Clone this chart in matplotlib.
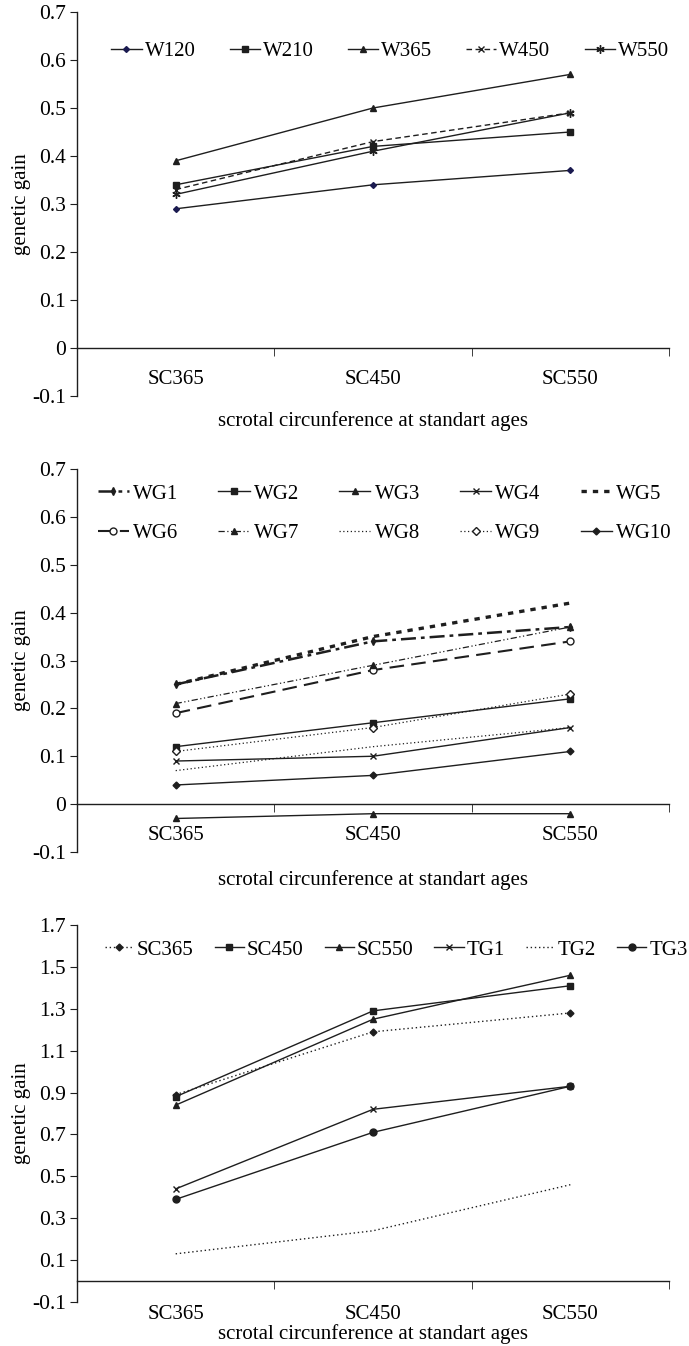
import matplotlib.pyplot as plt
import numpy as np

plt.rcParams['font.family'] = ['Liberation Serif', 'DejaVu Serif']

categories = ['SC365', 'SC450', 'SC550']

# panel 1 : selection on weights
w_names = ['W120', 'W210', 'W365', 'W450', 'W550']
w120 = [0.29, 0.34, 0.37]
w210 = [0.34, 0.42, 0.45]
w365 = [0.39, 0.50, 0.57]
w450 = [0.33, 0.43, 0.49]
w550 = [0.32, 0.41, 0.49]
p1_yticks = [-0.1, 0, 0.1, 0.2, 0.3, 0.4, 0.5, 0.6, 0.7]

# panel 2 : weight gains
wg_names = ['WG1', 'WG2', 'WG3', 'WG4', 'WG5', 'WG6', 'WG7', 'WG8', 'WG9', 'WG10']
wg1 = [0.25, 0.34, 0.37]
wg2 = [0.12, 0.17, 0.22]
wg3 = [-0.03, -0.02, -0.02]
wg4 = [0.09, 0.10, 0.16]
wg5 = [0.25, 0.35, 0.42]
wg6 = [0.19, 0.28, 0.34]
wg7 = [0.21, 0.29, 0.37]
wg8 = [0.07, 0.12, 0.16]
wg9 = [0.11, 0.16, 0.23]
wg10 = [0.04, 0.06, 0.11]
p2_yticks = [-0.1, 0, 0.1, 0.2, 0.3, 0.4, 0.5, 0.6, 0.7]

# panel 3 : scrotal circumference and testis traits
t_names = ['SC365', 'SC450', 'SC550', 'TG1', 'TG2', 'TG3']
sc365 = [0.89, 1.19, 1.28]
sc450 = [0.88, 1.29, 1.41]
sc550 = [0.84, 1.25, 1.46]
tg1 = [0.44, 0.82, 0.93]
tg2 = [0.13, 0.24, 0.46]
tg3 = [0.39, 0.71, 0.93]
p3_yticks = [-0.1, 0.1, 0.3, 0.5, 0.7, 0.9, 1.1, 1.3, 1.5, 1.7]

xlab = 'scrotal circunference at standart ages'
ylab = 'genetic gain'
K = '#1e1e1e'
FS = 15

fig = plt.figure(figsize=(6.89, 13.46), dpi=100)
W, H = 689, 1346


def make_ax(top, bottom):
    ax = fig.add_axes([77 / W, 1 - bottom / H, 592 / W, (bottom - top) / H])
    return ax


def style(ax, yticks, xlab_y, xpad):
    x = np.arange(len(categories))
    ax.set_xlim(-0.5, 2.5)
    ax.set_ylim(yticks[0], yticks[-1])
    ax.spines['top'].set_visible(False)
    ax.spines['right'].set_visible(False)
    ax.spines['bottom'].set_position(('data', 0))
    for s in ['left', 'bottom']:
        ax.spines[s].set_color(K)
        ax.spines[s].set_linewidth(1.0)
    ax.set_xticks(x)
    ax.set_xticklabels(categories, fontsize=FS)
    ax.set_xticks([0.5, 1.5, 2.5], minor=True)
    ax.tick_params(axis='x', which='major', length=0, pad=xpad)
    ax.tick_params(axis='x', which='minor', length=6, direction='out', color=K)
    ax.set_yticks(yticks)
    ax.set_yticklabels([('%g' % v) for v in yticks], fontsize=15.5)
    ax.tick_params(axis='y', length=5, direction='out', color=K, pad=3)
    ax.set_xlabel(xlab, fontsize=FS)
    ax.xaxis.label.set_va('center')
    ax.xaxis.set_label_coords(0.5, xlab_y)
    ax.set_ylabel(ylab, fontsize=FS)
    ax.yaxis.set_label_coords(-0.078, 0.5)


x = np.arange(len(categories))

# ---------------- panel 1
ax1 = make_ax(12, 396)
ax1.plot(x, w120, color=K, lw=1, marker='D', ms=3, mfc='#1a1a50', mec='#1a1a50', label=w_names[0])
ax1.plot(x, w210, color=K, lw=1, marker='s', ms=5, label=w_names[1])
ax1.plot(x, w365, color=K, lw=1, marker='^', ms=4.5, label=w_names[2])
ax1.plot(x, w450, color=K, lw=1, ls=(0, (4, 2.5)), marker='x', ms=5, label=w_names[3])
ax1.plot(x, w550, color=K, lw=1, marker=(6, 2, 0), ms=6, label=w_names[4])
style(ax1, p1_yticks, -0.066, 15.5)
ax1.legend(loc='center left', bbox_to_anchor=(0.058, 0.898), ncol=5, frameon=False,
           fontsize=FS, handlelength=1.45, handletextpad=0.15, columnspacing=1.63,
           borderpad=0, borderaxespad=0, numpoints=1)

# ---------------- panel 2
ax2 = make_ax(469, 852)
l1, = ax2.plot(x, wg1, color=K, lw=1.8, ls=(0, (6, 2, 1.5, 2)), marker='d', ms=4, label=wg_names[0])
l2, = ax2.plot(x, wg2, color=K, lw=1, marker='s', ms=5, label=wg_names[1])
l3, = ax2.plot(x, wg3, color=K, lw=1, marker='^', ms=4.5, label=wg_names[2])
l4, = ax2.plot(x, wg4, color=K, lw=1, marker='x', ms=5, label=wg_names[3])
l5, = ax2.plot(x, wg5, color=K, lw=2.4, ls=(0, (1.6, 1.8)), label=wg_names[4])
l6, = ax2.plot(x, wg6, color=K, lw=1.5, ls=(0, (7, 3.5)), marker='o', ms=5, mfc='white', label=wg_names[5])
l7, = ax2.plot(x, wg7, color=K, lw=0.9, ls=(0, (5, 2, 1, 2, 1, 2)), marker='^', ms=4.5, label=wg_names[6])
l8, = ax2.plot(x, wg8, color=K, lw=0.9, ls=(0, (1, 2)), label=wg_names[7])
l9, = ax2.plot(x, wg9, color=K, lw=0.9, ls=(0, (1, 2)), marker='D', ms=4, mfc='white', label=wg_names[8])
l10, = ax2.plot(x, wg10, color=K, lw=1, marker='D', ms=3.5, label=wg_names[9])
style(ax2, p2_yticks, -0.073, 15.5)
order = [l1, l6, l2, l7, l3, l8, l4, l9, l5, l10]
ax2.legend(order, [h.get_label() for h in order], loc='center left',
           bbox_to_anchor=(0.035, 0.884), ncol=5, frameon=False, fontsize=FS,
           handlelength=1.5, handletextpad=0.2, columnspacing=1.92, labelspacing=0.95,
           borderpad=0, borderaxespad=0, numpoints=1)

# ---------------- panel 3
ax3 = make_ax(925, 1302)
ax3.plot(x, sc365, color=K, lw=1, ls=(0, (1, 2)), marker='D', ms=3.5, label=t_names[0])
ax3.plot(x, sc450, color=K, lw=1, marker='s', ms=5, label=t_names[1])
ax3.plot(x, sc550, color=K, lw=1, marker='^', ms=4.5, label=t_names[2])
ax3.plot(x, tg1, color=K, lw=1, marker='x', ms=5, label=t_names[3])
ax3.plot(x, tg2, color=K, lw=1, ls=(0, (1, 2)), label=t_names[4])
ax3.plot(x, tg3, color=K, lw=1, marker='o', ms=5, label=t_names[5])
style(ax3, p3_yticks, -0.085, 17)
ax3.legend(loc='center left', bbox_to_anchor=(0.047, 0.934), ncol=6, frameon=False,
           fontsize=FS, handlelength=1.4, handletextpad=0.15, columnspacing=1.0,
           borderpad=0, borderaxespad=0, numpoints=1)

fig.savefig('out.png', dpi=100)
